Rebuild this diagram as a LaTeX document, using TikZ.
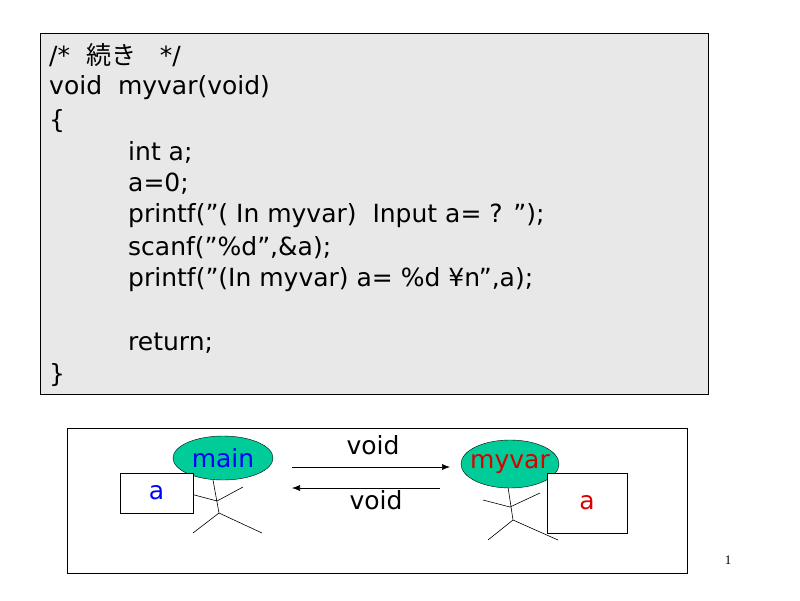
\documentclass[tikz,border=0pt]{standalone}
\usepackage{fontspec}
\setmainfont{DejaVu Sans}
\newfontfamily\cjk{Noto Sans CJK JP}
\newfontfamily\serifnum{Liberation Serif}
\usetikzlibrary{arrows.meta,shapes.geometric}
\definecolor{ovalgreen}{RGB}{0,204,153}
\newcommand{\dq}{\symbol{34}}
\begin{document}
\begin{tikzpicture}[x=1pt,y=-1pt,
  code/.style={anchor=west,inner sep=0,font=\fontsize{25}{25}\selectfont},
  lbl/.style={inner sep=0,font=\fontsize{25}{25}\selectfont},
  oval/.style={ellipse,draw,fill=ovalgreen,minimum width=100,minimum height=44,inner sep=0},
  var/.style={draw,fill=white,inner sep=0},
  stick/.style={line width=0.6pt},
  arr/.style={-{Latex[length=8,width=6]},line width=0.6pt}]
\useasboundingbox (0,0) rectangle (800,600);
\node[draw,fill=black!9,minimum width=668,minimum height=361,anchor=north west,inner sep=0] (cb) at (40,33) {};
\node[code] (l1) at (49,55) {/*\ \ {\cjk 続き}\ \ \ */};
\node[code] (l2) at (49,88) {void\ \ myvar(void)};
\node[code] (l3) at (49,121) {\{};
\node[code] (l4) at (128,152) {int a;};
\node[code] (l5) at (128,184) {a=0;};
\node[code] (l6) at (128,216) {printf(\dq( In myvar)\ \ Input a= ? \dq);};
\node[code] (l7) at (128,248) {scanf(\dq\%d\dq,\&a);};
\node[code] (l8) at (128,280) {printf(\dq(In myvar) a= \%d ¥n\dq,a);};
\node[code] (l9) at (128,343) {return;};
\node[code] (l10) at (49,375) {\}};
\node[draw,minimum width=620,minimum height=145,anchor=north west,inner sep=0] (lb) at (67,428) {};
% left figure
\draw[stick] (213,480) -- (219,513) (187,493) -- (217,501) -- (243,487) (193,533) -- (219,513) -- (262,533);
\node[oval] (main) at (223,458) {};
\node[lbl,text=blue] at (main) {main};
\node[var,minimum width=73,minimum height=40] (a1) at (156.5,493) {};
\node[lbl,text=blue] at (a1) {a};
% right figure
\draw[stick] (508,487) -- (513,520) (483,500) -- (510,507) -- (540,493) (488,540) -- (513,520) -- (558,540);
\node[oval,minimum width=98,minimum height=48] (myvar) at (510,464) {};
\node[lbl,text=red!85!black] at (myvar) {myvar};
\node[var,minimum width=80,minimum height=60] (a2) at (587,503) {};
\node[lbl,text=red!85!black] at (a2) {a};
\coordinate (p1) at (292,467); \coordinate (p2) at (450,467);
\coordinate (q1) at (440,488); \coordinate (q2) at (292,488);
\draw[arr] (p1) -- (p2);
\draw[arr] (q1) -- (q2);
\node[lbl] (v1) at (373,445) {void};
\node[lbl] (v2) at (376,500) {void};
\node[font=\serifnum\fontsize{13}{13}\selectfont] (pg) at (728,560) {1};
\end{tikzpicture}
\end{document}
